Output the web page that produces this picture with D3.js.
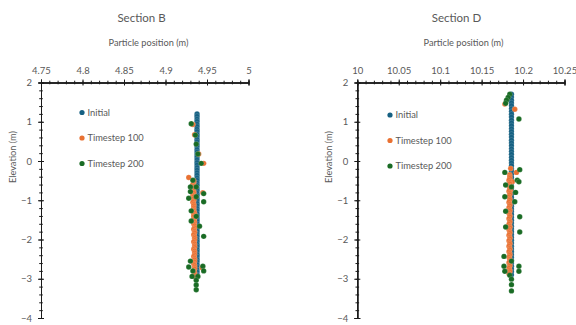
<!DOCTYPE html>
<html>
<head>
<meta charset="utf-8">
<script src="https://cdn.jsdelivr.net/npm/d3@7"></script>
<style>
  html, body { margin: 0; padding: 0; background: #fff; }
  svg { display: block; font-family: Lato, "Open Sans", sans-serif; }
</style>
</head>
<body>
<svg id="chart" width="576" height="325"></svg>
<script>
// ---- Section B particle positions [x (m), elevation (m)] ----
const sectionBInitial = [
  [4.938,1.20],[4.938,1.14],[4.938,1.07],[4.938,1.01],[4.938,0.94],[4.938,0.88],[4.938,0.81],[4.938,0.75],
  [4.938,0.68],[4.938,0.62],[4.938,0.55],[4.938,0.49],[4.938,0.42],[4.938,0.36],[4.938,0.29],[4.938,0.23],
  [4.938,0.16],[4.938,0.10],[4.938,0.03],[4.938,-0.04],[4.938,-0.10],[4.938,-0.17],[4.938,-0.23],[4.938,-0.30],
  [4.938,-0.36],[4.938,-0.43],[4.938,-0.49],[4.938,-0.56],[4.938,-0.62],[4.938,-0.69],[4.938,-0.75],[4.938,-0.82],
  [4.938,-0.88],[4.938,-0.95],[4.938,-1.01],[4.938,-1.08],[4.938,-1.14],[4.938,-1.21],[4.938,-1.27],[4.938,-1.34],
  [4.938,-1.40],[4.938,-1.47],[4.938,-1.53],[4.938,-1.60],[4.938,-1.66],[4.938,-1.73],[4.938,-1.79],[4.938,-1.86],
  [4.938,-1.92],[4.938,-1.99],[4.938,-2.05],[4.938,-2.12],[4.938,-2.18],[4.938,-2.25],[4.938,-2.31],[4.938,-2.38],
  [4.938,-2.44],[4.938,-2.51],[4.938,-2.57],[4.938,-2.64],[4.938,-2.70],[4.938,-2.77],[4.938,-2.83],[4.938,-2.90]
];
const sectionBStep100 = [
  [4.933,0.93],[4.935,0.67],[4.940,0.18],[4.946,-0.06],[4.928,-0.42],[4.945,-0.81],
  [4.934,-0.50],[4.934,-0.55],[4.933,-0.59],[4.934,-0.64],[4.934,-0.68],[4.933,-0.73],[4.934,-0.78],[4.934,-0.82],
  [4.933,-0.87],[4.934,-0.91],[4.934,-0.96],[4.934,-1.01],[4.933,-1.05],[4.934,-1.10],[4.934,-1.14],[4.934,-1.19],
  [4.934,-1.24],[4.934,-1.28],[4.935,-1.33],[4.934,-1.37],[4.934,-1.42],[4.935,-1.47],[4.934,-1.51],[4.935,-1.56],
  [4.934,-1.60],[4.935,-1.65],[4.935,-1.70],[4.934,-1.74],[4.935,-1.79],[4.935,-1.83],[4.934,-1.88],[4.935,-1.93],
  [4.935,-1.97],[4.935,-2.02],[4.934,-2.06],[4.935,-2.11],[4.935,-2.16],[4.935,-2.20],[4.934,-2.25],[4.935,-2.29],
  [4.935,-2.34],[4.935,-2.39],[4.934,-2.43],[4.935,-2.48],[4.935,-2.52],[4.935,-2.57],[4.934,-2.62],[4.935,-2.66],
  [4.935,-2.71],[4.935,-2.75],[4.934,-2.80],[4.935,-2.85],[4.935,-2.89],[4.935,-2.94],[4.944,-2.72]
];
const sectionBStep200 = [
  [4.931,0.95],[4.936,0.66],[4.937,0.43],[4.939,0.18],[4.943,-0.06],[4.933,-0.49],[4.930,-0.66],[4.937,-0.66],
  [4.930,-0.78],[4.946,-0.83],[4.937,-0.91],[4.928,-0.95],[4.946,-1.04],[4.931,-1.27],[4.937,-1.41],[4.931,-1.53],
  [4.941,-1.66],[4.946,-1.92],[4.930,-2.55],[4.928,-2.70],[4.945,-2.68],[4.946,-2.80],[4.933,-2.80],[4.932,-2.94],
  [4.939,-2.94],[4.937,-3.04],[4.937,-3.16],[4.937,-3.28]
];

// ---- Section D particle positions [x (m), elevation (m)] ----
const sectionDInitial = [
  [10.186,1.70],[10.186,1.63],[10.186,1.55],[10.186,1.48],[10.186,1.41],[10.186,1.33],[10.186,1.26],[10.186,1.19],
  [10.186,1.12],[10.186,1.04],[10.186,0.97],[10.186,0.90],[10.186,0.82],[10.186,0.75],[10.186,0.68],[10.186,0.61],
  [10.186,0.53],[10.186,0.46],[10.186,0.39],[10.186,0.31],[10.186,0.24],[10.186,0.17],[10.186,0.09],[10.186,0.02],
  [10.186,-0.05],[10.186,-0.12],[10.186,-0.20],[10.186,-0.27],[10.186,-0.34],[10.186,-0.42],[10.186,-0.49],[10.186,-0.56],
  [10.186,-0.64],[10.186,-0.71],[10.186,-0.78],[10.186,-0.85],[10.186,-0.93],[10.186,-1.00],[10.186,-1.07],[10.186,-1.15],
  [10.186,-1.22],[10.186,-1.29],[10.186,-1.36],[10.186,-1.44],[10.186,-1.51],[10.186,-1.58],[10.186,-1.66],[10.186,-1.73],
  [10.186,-1.80],[10.186,-1.88],[10.186,-1.95],[10.186,-2.02],[10.186,-2.09],[10.186,-2.17],[10.186,-2.24],[10.186,-2.31],
  [10.186,-2.39],[10.186,-2.46],[10.186,-2.53],[10.186,-2.60],[10.186,-2.68],[10.186,-2.75],[10.186,-2.82],[10.186,-2.90]
];
const sectionDStep100 = [
  [10.178,1.45],[10.190,1.32],[10.185,-0.19],[10.192,-0.29],[10.187,-0.53],[10.185,-0.74],
  [10.184,-0.35],[10.184,-0.40],[10.184,-0.44],[10.183,-0.49],[10.184,-0.54],[10.184,-0.58],[10.183,-0.63],[10.184,-0.68],
  [10.184,-0.72],[10.183,-0.77],[10.184,-0.82],[10.184,-0.86],[10.183,-0.91],[10.184,-0.96],[10.184,-1.00],[10.183,-1.05],
  [10.184,-1.10],[10.184,-1.14],[10.183,-1.19],[10.184,-1.24],[10.184,-1.28],[10.183,-1.33],[10.184,-1.38],[10.184,-1.42],
  [10.183,-1.47],[10.184,-1.52],[10.184,-1.56],[10.183,-1.61],[10.184,-1.66],[10.184,-1.70],[10.183,-1.75],[10.184,-1.80],
  [10.184,-1.84],[10.183,-1.89],[10.184,-1.94],[10.184,-1.98],[10.183,-2.03],[10.184,-2.08],[10.184,-2.12],[10.183,-2.17],
  [10.184,-2.22],[10.184,-2.26],[10.183,-2.31],[10.184,-2.36],[10.184,-2.40],[10.183,-2.45],[10.184,-2.50],[10.184,-2.54],
  [10.183,-2.59],[10.184,-2.64],[10.184,-2.68],[10.183,-2.73],[10.184,-2.78],[10.184,-2.82],[10.183,-2.87]
];
const sectionDStep200 = [
  [10.184,1.70],[10.182,1.62],[10.180,1.55],[10.179,1.47],[10.195,1.07],[10.196,-0.22],[10.178,-0.29],[10.193,-0.49],
  [10.195,-0.53],[10.179,-0.61],[10.186,-0.66],[10.191,-0.80],[10.178,-0.91],[10.190,-1.04],[10.179,-1.28],[10.196,-1.42],
  [10.179,-1.68],[10.196,-1.81],[10.177,-2.43],[10.186,-2.55],[10.177,-2.68],[10.195,-2.68],[10.178,-2.81],[10.195,-2.81],
  [10.184,-2.91],[10.186,-3.01],[10.186,-3.15],[10.186,-3.31]
];

// ---- axis ticks ----
const xTicksB = [4.75, 4.8, 4.85, 4.9, 4.95, 5];
const xTicksD = [10, 10.05, 10.1, 10.15, 10.2, 10.25];
const yTicks = [2, 1, 0, -1, -2, -3, -4];
const seriesNames = ["Initial", "Timestep 100", "Timestep 200"];
const seriesColors = ["#156082", "#E97132", "#196B24"];

const svg = d3.select("#chart");
const textColor = "#595959";
const axisColor = "#1a1a1a";

function drawPanel(opt) {
  const x = d3.scaleLinear().domain(opt.xDomain).range(opt.xRange);
  const y = d3.scaleLinear().domain([2, -4]).range([82.5, 318]);
  const g = svg.append("g");

  // titles
  g.append("text").attr("x", opt.titleX).attr("y", 22).attr("text-anchor", "middle")
    .attr("font-size", 11.5).attr("fill", textColor).text(opt.title);
  g.append("text").attr("x", opt.axisTitleX).attr("y", 46).attr("text-anchor", "middle")
    .attr("font-size", 9.2).attr("fill", textColor).text("Particle position (m)");
  g.append("text").attr("transform", `translate(${opt.yTitleX},157) rotate(-90)`)
    .attr("text-anchor", "middle").attr("font-size", 9.2).attr("fill", textColor).text("Elevation (m)");

  const x0 = opt.xDomain[0], x1 = opt.xDomain[1];
  const minorX = d3.range(0, 26).map(i => x0 + i * (x1 - x0) / 25);
  const minorY = d3.range(0, 31).map(i => 2 - i * 0.2);

  // particle markers, one layer per time step
  const pts = g.append("g");
  opt.series.forEach((s, i) => {
    pts.append("g").selectAll("circle").data(s).join("circle")
      .attr("cx", d => x(d[0])).attr("cy", d => y(d[1])).attr("r", 2.7)
      .attr("fill", seriesColors[i])
      .attr("stroke", "#ffffff").attr("stroke-opacity", 0.3).attr("stroke-width", 0.5);
  });

  const axX = y(2);
  const axY = x(x0);

  // x axis: major ticks crossing the line, labels above
  const xa = g.append("g").attr("transform", `translate(0,${axX})`);
  xa.call(d3.axisTop(x).tickValues(opt.xTicks).tickSize(3).tickPadding(6).tickFormat(d3.format("")));
  xa.append("g").call(d3.axisBottom(x).tickValues(opt.xTicks).tickSize(3).tickFormat(""));
  xa.append("g").call(d3.axisTop(x).tickValues(minorX).tickSize(1.8).tickFormat(""));
  xa.append("g").call(d3.axisBottom(x).tickValues(minorX).tickSize(1.8).tickFormat(""));

  // y axis
  const ya = g.append("g").attr("transform", `translate(${axY},0)`);
  ya.call(d3.axisLeft(y).tickValues(yTicks).tickSize(3).tickPadding(6).tickFormat(d3.format("")));
  ya.append("g").call(d3.axisRight(y).tickValues(yTicks).tickSize(3).tickFormat(""));
  ya.append("g").call(d3.axisLeft(y).tickValues(minorY).tickSize(1.8).tickFormat(""));
  ya.append("g").call(d3.axisRight(y).tickValues(minorY).tickSize(1.8).tickFormat(""));

  g.selectAll(".domain").attr("stroke", axisColor).attr("stroke-width", 1);
  g.selectAll(".tick line").attr("stroke", axisColor);
  g.selectAll(".tick text").attr("fill", textColor).attr("font-size", 9.5)
    .attr("font-family", "Lato, 'Open Sans', sans-serif");

  // legend
  const lg = g.append("g");
  seriesNames.forEach((name, i) => {
    const yy = opt.legendY + i * 25.5;
    lg.append("circle").attr("cx", opt.legendX).attr("cy", yy).attr("r", 2.6).attr("fill", seriesColors[i]);
    lg.append("text").attr("x", opt.legendX + 5.5).attr("y", yy + 3.2).attr("font-size", 9.3)
      .attr("fill", textColor).text(name);
  });
}

drawPanel({
  title: "Section B", titleX: 141.5, axisTitleX: 148.5, yTitleX: 16,
  xDomain: [4.75, 5], xRange: [41, 248.5], xTicks: xTicksB,
  series: [sectionBInitial, sectionBStep100, sectionBStep200],
  legendX: 82, legendY: 112.5
});
drawPanel({
  title: "Section D", titleX: 456.5, axisTitleX: 463.5, yTitleX: 332,
  xDomain: [10, 10.25], xRange: [357.3, 564.5], xTicks: xTicksD,
  series: [sectionDInitial, sectionDStep100, sectionDStep200],
  legendX: 390, legendY: 115
});
</script>
</body>
</html>
